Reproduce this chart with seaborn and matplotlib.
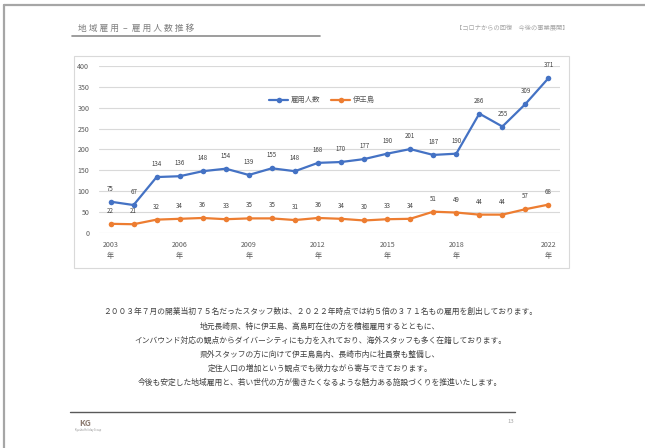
import matplotlib
matplotlib.use("Agg")
import matplotlib.pyplot as plt
import numpy as np
import pandas as pd
import seaborn as sns
from matplotlib.lines import Line2D
from matplotlib.patches import Rectangle

years = list(range(2003, 2023))
staff_total = [75, 67, 134, 136, 148, 154, 139, 155, 148, 168,
               170, 177, 190, 201, 187, 190, 286, 255, 309, 371]
staff_ioujima = [22, 21, 32, 34, 36, 33, 35, 35, 31, 36,
                 34, 30, 33, 34, 51, 49, 44, 44, 57, 68]
series_names = ["雇用人数", "伊王島"]
tick_years = [2003, 2006, 2009, 2012, 2015, 2018, 2022]

title = "地 域 雇 用  –  雇 用 人 数 推 移"
header = "【コロナからの回復　今後の事業展開】"
body_lines = [
    "２００３年７月の開業当初７５名だったスタッフ数は、２０２２年時点では約５倍の３７１名もの雇用を創出しております。",
    "地元長崎県、特に伊王島、高島町在住の方を積極雇用するとともに、",
    "インバウンド対応の観点からダイバーシティにも力を入れており、海外スタッフも多く在籍しております。",
    "県外スタッフの方に向けて伊王島島内、長崎市内に社員寮も整備し、",
    "定住人口の増加という観点でも微力ながら寄与できております。",
    "今後も安定した地域雇用と、若い世代の方が働きたくなるような魅力ある施設づくりを推進いたします。",
]

sns.set_theme(style="white")
plt.rcParams["font.family"] = ["Noto Sans CJK JP", "DejaVu Sans"]

BLUE = "#4472C4"
ORANGE = "#ED7D31"
GRAY = "#595959"

W, H = 645, 448
fig = plt.figure(figsize=(W / 100, H / 100), dpi=100)
fig.patch.set_facecolor("white")


def fx(px):
    return px / W


def fy(py):
    return 1 - py / H


# page frame (top and left edges)
fig.add_artist(Line2D([fx(4), 1], [fy(5), fy(5)], color="#A6A6A6", lw=1.6))
fig.add_artist(Line2D([fx(4), fx(4)], [fy(5), 0], color="#A6A6A6", lw=1.6))

# header
fig.text(fx(78), fy(28), title, fontsize=6.3, color="#7F7F7F", va="center", ha="left")
fig.add_artist(Line2D([fx(72), fx(320)], [fy(36), fy(36)], color="#8C8C8C", lw=1.2))
fig.text(fx(512), fy(28), header, fontsize=4.5, color="#A6A6A6", va="center", ha="center")

# chart frame
fig.add_artist(Rectangle((fx(74), fy(268)), fx(569) - fx(74), fy(56) - fy(268),
                         transform=fig.transFigure, fill=False, edgecolor="#D9D9D9", lw=0.8))

df = pd.DataFrame({
    "year": years * 2,
    "value": staff_total + staff_ioujima,
    "series": [series_names[0]] * len(years) + [series_names[1]] * len(years),
})

ax = fig.add_axes([fx(99), fy(233), fx(560) - fx(99), fy(66) - fy(233)])
sns.lineplot(data=df, x="year", y="value", hue="series",
             palette={series_names[0]: BLUE, series_names[1]: ORANGE},
             marker="o", markersize=4, markeredgewidth=0, linewidth=1.6, ax=ax)

for name, vals in zip(series_names, [staff_total, staff_ioujima]):
    for x, v in zip(years, vals):
        ax.annotate(str(v), (x, v), xytext=(0, 6.5), textcoords="offset points",
                    ha="center", va="bottom", fontsize=4.4, color="#404040")

ax.set_xlim(years[0] - 0.5, years[-1] + 0.5)
ax.set_ylim(0, 400)
ax.set_yticks(range(0, 401, 50))
ax.set_xticks(tick_years)
ax.set_xticklabels([f"{y}\n年" for y in tick_years], linespacing=1.45)
ax.tick_params(axis="both", length=0, labelsize=5.1, labelcolor=GRAY)
ax.tick_params(axis="y", pad=7)
ax.tick_params(axis="x", pad=6)
ax.yaxis.grid(True, color="#D9D9D9", lw=0.8)
ax.xaxis.grid(False)
for s in ax.spines.values():
    s.set_visible(False)
ax.set_xlabel("")
ax.set_ylabel("")
ax.set_facecolor("none")

handles, labels = ax.get_legend_handles_labels()
ax.legend(handles, labels, loc="center", bbox_to_anchor=(0.484, 0.795), ncol=2,
          frameon=False, fontsize=5.3, labelcolor=GRAY, handlelength=2.6,
          columnspacing=1.4, handletextpad=0.4)

# body text
for i, line in enumerate(body_lines):
    y = [312, 326.5, 341, 355, 369, 383][i]
    fig.text(fx(320), fy(y), line, fontsize=5.6, color="#404040", ha="center", va="center")

# footer
fig.add_artist(Line2D([fx(70), fx(515)], [fy(412), fy(412)], color="#595959", lw=1.0))
fig.text(fx(85), fy(423), "KG", fontsize=6, color="#8C7B70", ha="center", va="center",
         fontweight="bold")
fig.text(fx(88), fy(429.5), "Kyushu Holiday Group", fontsize=1.8, color="#8C8C8C",
         ha="center", va="center")
fig.text(fx(511), fy(421), "13", fontsize=4.3, color="#A6A6A6", ha="center", va="center")

fig.savefig("out.png", dpi=100, facecolor="white")
